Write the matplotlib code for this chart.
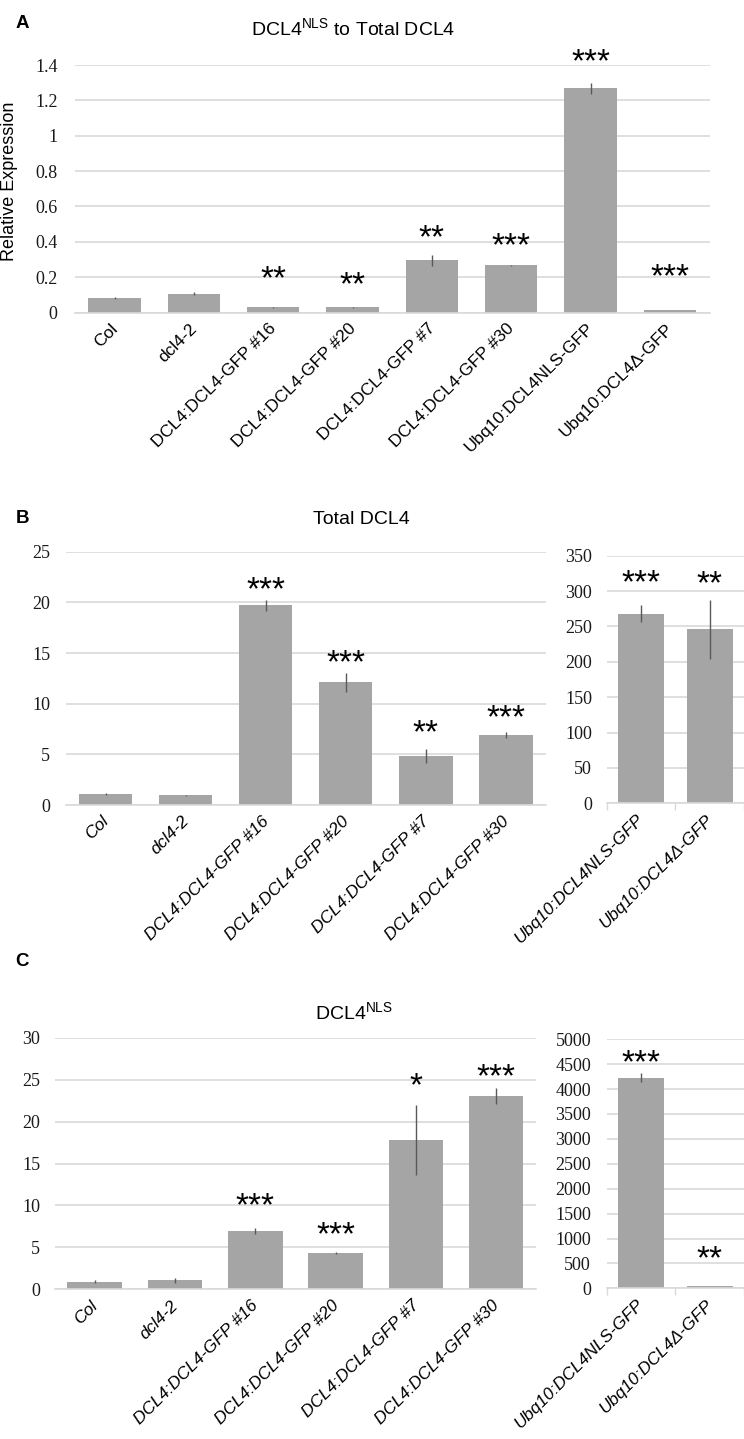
import matplotlib
matplotlib.use('Agg')
import matplotlib.pyplot as plt
import matplotlib.transforms as mtrans

plt.rcParams['font.family'] = ['Liberation Sans', 'DejaVu Sans']
plt.rcParams['font.serif'] = ['Liberation Serif', 'DejaVu Serif']
plt.rcParams['mathtext.fontset'] = 'custom'
plt.rcParams['mathtext.rm'] = 'Liberation Sans'
plt.rcParams['mathtext.it'] = 'Liberation Sans:italic'

# ---------------- data ----------------
cats_lines = ['Col', 'dcl4-2', 'DCL4:DCL4-GFP #16', 'DCL4:DCL4-GFP #20',
              'DCL4:DCL4-GFP #7', 'DCL4:DCL4-GFP #30']
cats_ubq = ['Ubq10:DCL4NLS-GFP', 'Ubq10:DCL4\u0394-GFP']

# Panel A: DCL4NLS to total DCL4
a_vals = [0.08, 0.106, 0.03, 0.03, 0.295, 0.266, 1.268, 0.015]
a_errs = [0.005, 0.008, 0.003, 0.003, 0.03, 0.005, 0.03, 0.0]
a_stars = ['', '', '**', '**', '**', '***', '***', '***']
a_yticks = [0, 0.2, 0.4, 0.6, 0.8, 1.0, 1.2, 1.4]
a_yticklabels = ['0', '0.2', '0.4', '0.6', '0.8', '1', '1.2', '1.4']

# Panel B: total DCL4
b_vals = [1.1, 0.95, 19.7, 12.1, 4.84, 6.9]
b_errs = [0.08, 0.05, 0.55, 0.9, 0.7, 0.3]
b_stars = ['', '', '***', '***', '**', '***']
b_yticks = [0, 5, 10, 15, 20, 25]
b2_vals = [268, 246]
b2_errs = [12, 42]
b2_stars = ['***', '**']
b2_yticks = [0, 50, 100, 150, 200, 250, 300, 350]

# Panel C: DCL4NLS
c_vals = [0.9, 1.1, 7.0, 4.33, 17.8, 23.05]
c_errs = [0.2, 0.3, 0.35, 0.1, 4.2, 0.97]
c_stars = ['', '', '***', '***', '*', '***']
c_yticks = [0, 5, 10, 15, 20, 25, 30]
c2_vals = [4230, 50]
c2_errs = [94, 5]
c2_stars = ['***', '**']
c2_yticks = [0, 500, 1000, 1500, 2000, 2500, 3000, 3500, 4000, 4500, 5000]

# ---------------- style ----------------
BAR = '#a5a5a5'
GRID = '#d9d9d9'
ERR = '#595959'
STAR_FS = 24
W, H = 744, 1439
fig = plt.figure(figsize=(W / 100, H / 100), dpi=100)


def add_axes(l, r, t, b):
    return fig.add_axes([l / W, 1 - b / H, (r - l) / W, (b - t) / H])


def panel(ax, cats, vals, errs, stars, star_off_px, yticks, yticklabels,
          ypad, italic, width, xlim=None, boundary=False, lab_fs=12.5):
    x = list(range(len(cats)))
    ax.bar(x, vals, width=width, color=BAR, zorder=2)
    ax.errorbar(x, vals, yerr=errs, fmt='none', ecolor=ERR, elinewidth=1.0,
                capsize=0, zorder=3)
    ax.set_ylim(yticks[0], yticks[-1])
    ax.set_yticks(yticks)
    ax.set_yticklabels(yticklabels)
    ax.tick_params(axis='y', length=0, pad=ypad, labelsize=13,
                   labelcolor='#1a1a1a', labelfontfamily='serif')
    if xlim is None:
        xlim = (-0.5, len(cats) - 0.5)
    ax.set_xlim(*xlim)
    ax.set_xticks(x)
    ax.set_xticklabels(cats, rotation=45, ha='right', fontsize=lab_fs,
                       style='italic' if italic else 'normal')
    ax.tick_params(axis='x', which='major', length=0, pad=6)
    off = mtrans.ScaledTranslation(6 / 100, 0, fig.dpi_scale_trans)
    for lab in ax.get_xticklabels():
        lab.set_transform(lab.get_transform() + off)
    if boundary:
        ax.set_xticks([i - 0.5 for i in range(len(cats) + 1)], minor=True)
        ax.tick_params(axis='x', which='minor', length=5, width=1,
                       color=GRID, direction='out')
    ax.yaxis.grid(True, color=GRID, lw=1.2, zorder=0)
    ax.set_axisbelow(True)
    for s in ['left', 'right', 'top']:
        ax.spines[s].set_visible(False)
    ax.spines['bottom'].set_color(GRID)
    ax.spines['bottom'].set_linewidth(1.2)
    fs_px = STAR_FS * 100 / 72
    for i, (v, e, s, o) in enumerate(zip(vals, errs, stars, star_off_px)):
        if not s:
            continue
        off_pt = (o - 0.58 * fs_px) * 72 / 100
        ax.annotate(s, xy=(i, v + e), xytext=(0, off_pt),
                    textcoords='offset points', ha='center', va='baseline',
                    fontsize=STAR_FS, annotation_clip=False)


# ---- Panel A ----
axA = add_axes(75, 709.5, 65, 312.5)
panel(axA, cats_lines + cats_ubq, a_vals, a_errs, a_stars,
      [0, 0, 38, 32, 27, 29, 31, 43], a_yticks, a_yticklabels, 12.5,
      False, 0.66)
axA.set_ylabel('Relative Expression', fontsize=13)
axA.yaxis.set_label_coords(-(75 - 17.8) / (709.5 - 75), 0.5 + (188.7 - 181) / 247.5)
fig.text(21.8 / W, 1 - 23.3 / H, 'A', fontsize=13.5, fontweight='bold',
         ha='center', va='center')
fig.text(353.6 / W, 1 - 28 / H, 'DCL4$^{\\mathrm{NLS}}$ to Total DCL4',
         fontsize=14, ha='center', va='center')

# ---- Panel B ----
axB = add_axes(65.5, 545.8, 551.7, 805)
panel(axB, cats_lines, b_vals, b_errs, b_stars, [0, 0, 20, 20, 26, 24],
      b_yticks, [str(t) for t in b_yticks], 11, True, 0.67)
axB2 = add_axes(606.7, 744, 555.7, 803.3)
panel(axB2, cats_ubq, b2_vals, b2_errs, b2_stars, [32, 26],
      b2_yticks, [str(t) for t in b2_yticks], 10.6, True, 0.67,
      xlim=(-0.5, -0.5 + (744 - 606.7) / 71.5), boundary=True)
fig.text(22.5 / W, 1 - 518 / H, 'B', fontsize=13.5, fontweight='bold',
         ha='center', va='center')
fig.text(361.6 / W, 1 - 520 / H, 'Total DCL4', fontsize=14,
         ha='center', va='center')

# ---- Panel C ----
axC = add_axes(54.6, 536.3, 1037.7, 1289.3)
panel(axC, cats_lines, c_vals, c_errs, c_stars, [0, 0, 32, 27, 29, 21],
      c_yticks, [str(t) for t in c_yticks], 10.3, True, 0.68)
axC2 = add_axes(606.7, 744, 1039.3, 1288.3)
panel(axC2, cats_ubq, c2_vals, c2_errs, c2_stars, [20, 37],
      c2_yticks, [str(t) for t in c2_yticks], 11.3, True, 0.67,
      xlim=(-0.5, -0.5 + (744 - 606.7) / 71), boundary=True)
fig.text(21.7 / W, 1 - 961.7 / H, 'C', fontsize=13.5, fontweight='bold',
         ha='center', va='center')
fig.text(353.6 / W, 1 - 1011.7 / H, 'DCL4$^{\\mathrm{NLS}}$',
         fontsize=14, ha='center', va='center')

fig.savefig('out.png', dpi=100, facecolor='white')
